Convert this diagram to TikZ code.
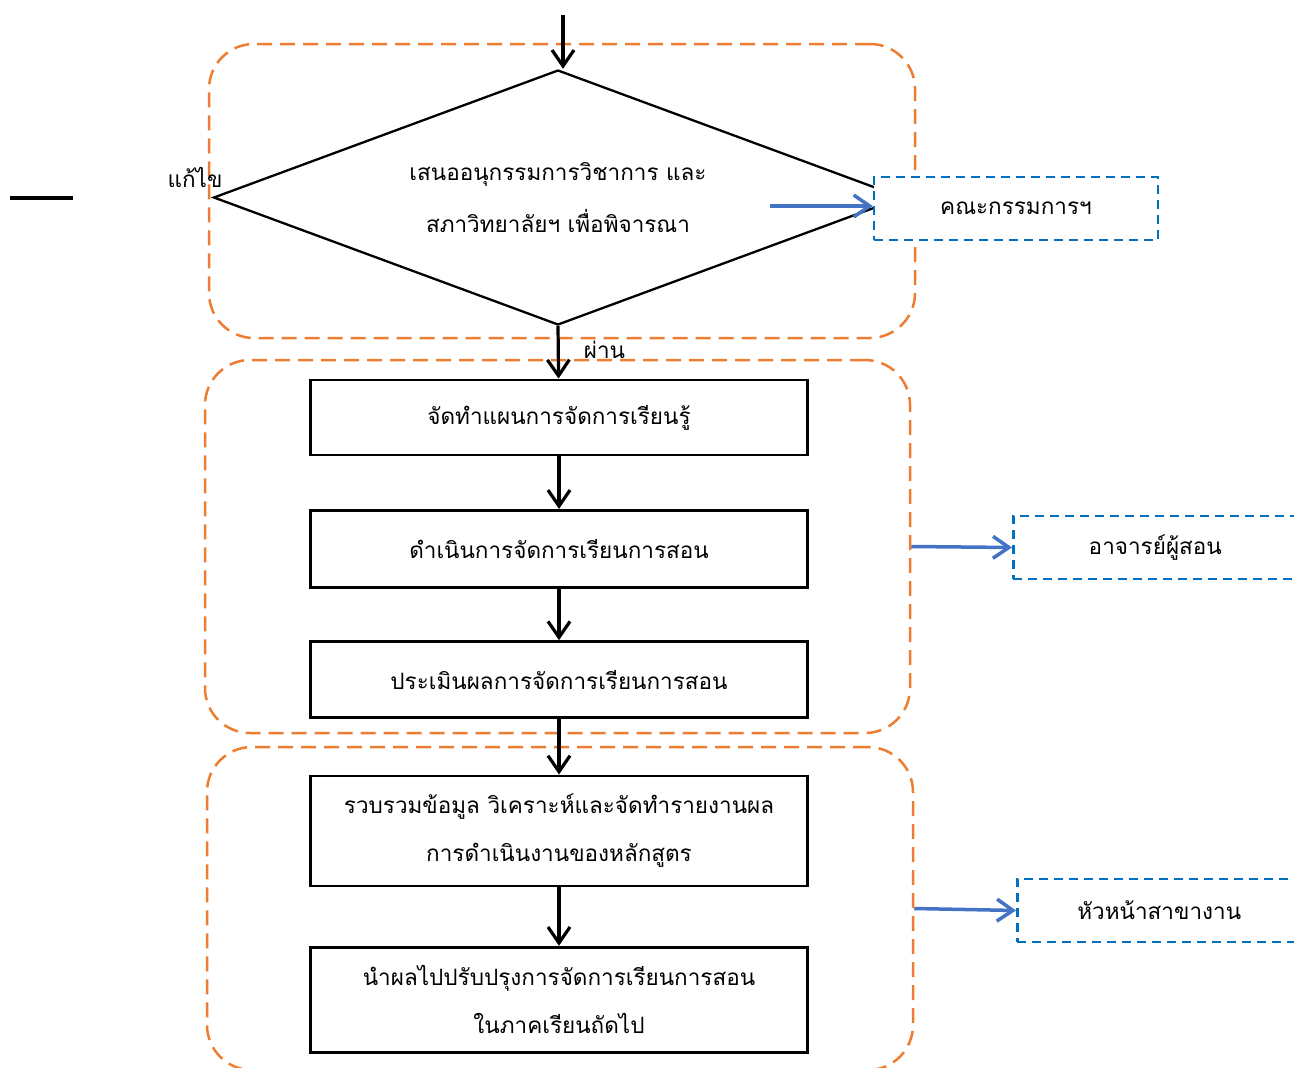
\documentclass[tikz,border=0pt]{standalone}
\usepackage{fontspec}
\setmainfont[Script=Thai]{Loma}
\usepackage{tikz}
\usetikzlibrary{arrows.meta,fit,positioning,shapes.geometric}
\definecolor{phaseorange}{HTML}{ED7D31}
\definecolor{roleblue}{HTML}{0070C0}
\definecolor{arrowblue}{HTML}{4472C4}
\tikzset{
    %Define standard arrow tip
    >={Straight Barb[length=16pt,width=22pt]},
    %Define style for boxes
    stepbox/.style={
           rectangle,
           draw=black, line width=2.8pt,
           minimum width=497pt,
           minimum height=75pt,
           align=center,
           font=\fontsize{22.5}{48}\selectfont,
           fill=white},
    decision/.style={
           diamond,
           shape aspect=2.7,
           draw=black, line width=2.3pt,
           minimum width=689pt,
           minimum height=255pt,
           align=center,
           inner sep=0pt,
           font=\fontsize{22.5}{52}\selectfont},
    rolebox/.style={
           rectangle,
           draw=roleblue, line width=2.5pt,
           dash pattern=on 9pt off 6pt,
           minimum width=284pt,
           minimum height=63pt,
           font=\fontsize{22.5}{26}\selectfont,
           fill=white},
    phasebox/.style={
           rectangle,
           rounded corners=45pt,
           draw=phaseorange, line width=2.5pt,
           dash pattern=on 15pt off 8pt},
    lbl/.style={
           font=\fontsize{22.5}{26}\selectfont,
           inner sep=0pt},
    % Define arrow style
    pil/.style={
           ->,
           line width=3.2pt},
    bpil/.style={
           ->,
           arrowblue,
           line width=3.5pt}
}
\begin{document}
\begin{tikzpicture}[x=1pt,y=-1pt,node distance=52.5pt]
\useasboundingbox (0,0) rectangle (1294,1068);
\clip (0,0) rectangle (1294,1068);
% phases
\node[phasebox, minimum width=706pt, minimum height=294pt] (g1) at (562,191) {};
\node[phasebox, minimum width=705pt, minimum height=373pt] (g2) at (557.5,546.5) {};
\node[phasebox, minimum width=706pt, minimum height=323pt] (g3) at (560,908.5) {};
% flow
\node[decision] (dec) at (558,197.5) {เสนออนุกรรมการวิชาการ และ\\สภาวิทยาลัยฯ เพื่อพิจารณา};
\node[rolebox] (board) at (1016,208.5) {คณะกรรมการฯ};
\node[stepbox] (plan) at (559,417.5) {จัดทำแผนการจัดการเรียนรู้};
\node[stepbox, minimum height=77pt, below=of plan] (teach) {ดำเนินการจัดการเรียนการสอน};
\node[stepbox, minimum height=76pt, below=51.5pt of teach] (eval) {ประเมินผลการจัดการเรียนการสอน};
\node[stepbox, minimum height=110pt, below=55.5pt of eval] (report) {รวบรวมข้อมูล วิเคราะห์และจัดทำรายงานผล\\การดำเนินงานของหลักสูตร};
\node[stepbox, minimum height=105pt, below=58.5pt of report] (improve) {นำผลไปปรับปรุงการจัดการเรียนการสอน\\ในภาคเรียนถัดไป};
\node[rolebox, anchor=west] (teacher) at (1012,547.5) {อาจารย์ผู้สอน};
\node[rolebox, anchor=west] (head) at (1016,910.5) {หัวหน้าสาขางาน};
\node[lbl] (fix) at (195,177) {แก้ไข};
\coordinate (start) at (563,15);
\coordinate (send) at (770,206);
\coordinate (loopa) at (10,198);
\coordinate (loopb) at (73,198);
\draw[line width=3.5pt] (loopa) -- (loopb);
\path[pil]
	(start) edge (start |- dec.north)
	(dec.south) edge node[lbl, pos=.45, anchor=west, xshift=24pt] (pass) {ผ่าน} (plan)
	(plan) edge (teach)
	(teach) edge (eval)
	(eval) edge (report)
	(report) edge (improve);
\path[bpil]
	(send) edge (send -| board.west)
	(g2.east) edge (teacher.west)
	(g3.east) edge (head.west);
\end{tikzpicture}
\end{document}
